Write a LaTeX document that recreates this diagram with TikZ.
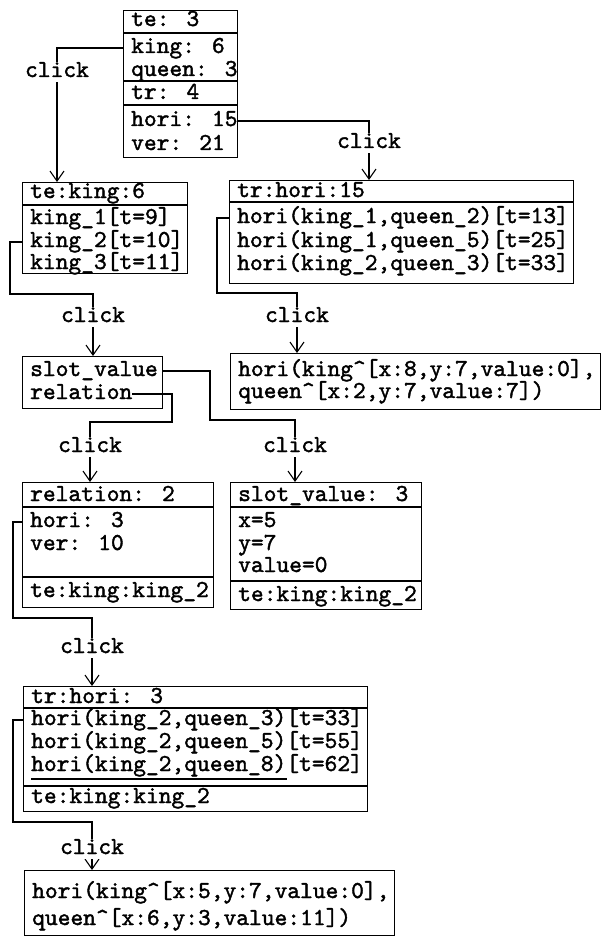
\documentclass[tikz,border=0pt]{standalone}
\usepackage{fontspec}
\usetikzlibrary{arrows.meta}
\newfontfamily\dmono{lmmono10-regular.otf}[FakeBold=1.6]
\newcommand\rf{\dmono\fontsize{24.3}{28}\selectfont}
\begin{document}
\begin{tikzpicture}[x=1pt,y=-1pt,
  box/.style={draw, line width=1.1pt, inner sep=0pt, anchor=north west},
  row/.style={anchor=west, inner sep=0pt, font=\rf, text height=13pt, text depth=3pt},
  lbl/.style={fill=white, inner sep=2pt, font=\rf, text height=13pt, text depth=3pt},
  sep/.style={line width=1.1pt},
  conn/.style={line width=1.1pt},
  arr/.style={conn, -{Straight Barb[length=10pt,width=14pt,line width=1.1pt]}}]
\useasboundingbox (0,0) rectangle (606,944);

% Box A
\node[box, minimum width=114pt, minimum height=147pt] (A) at (123,10) {};
\draw[sep] (A.west |- 0,33) -- (A.east |- 0,33);
\draw[sep] (A.west |- 0,81) -- (A.east |- 0,81);
\draw[sep] (A.west |- 0,105) -- (A.east |- 0,105);
\node[row] (a1) at (131,21) {te: 3};
\node[row] (a2) at (131,48) {king: 6};
\node[row] (a3) at (131,71) {queen: 3};
\node[row] (a4) at (131,94) {tr: 4};
\node[row] (a5) at (131,121) {hori: 15};
\node[row] (a6) at (131,145) {ver: 21};

% Box B
\node[box, minimum width=165pt, minimum height=91pt] (B) at (22,182) {};
\draw[sep] (B.west |- 0,205) -- (B.east |- 0,205);
\node[row] (b1) at (30,193) {te:king:6};
\node[row] (b2) at (30,219) {king\_1[t=9]};
\node[row] (b3) at (30,242) {king\_2[t=10]};
\node[row] (b4) at (30,264) {king\_3[t=11]};

% Box D
\node[box, minimum width=344pt, minimum height=103pt] (D) at (229,180) {};
\draw[sep] (D.west |- 0,202) -- (D.east |- 0,202);
\node[row] (d1) at (237,192) {tr:hori:15};
\node[row] (d2) at (237,218) {hori(king\_1,queen\_2)[t=13]};
\node[row] (d3) at (237,242) {hori(king\_1,queen\_5)[t=25]};
\node[row] (d4) at (237,265) {hori(king\_2,queen\_3)[t=33]};

% Box C
\node[box, minimum width=140pt, minimum height=52pt] (C) at (22,356) {};
\node[row] (c1) at (30,371) {slot\_value};
\node[row] (c2) at (30,394) {relation};

% Box E
\node[box, minimum width=370pt, minimum height=56pt] (E) at (230,353) {};
\node[row] (e1) at (238,371) {hori(king\textasciicircum[x:8,y:7,value:0],};
\node[row] (e2) at (238,393) {queen\textasciicircum[x:2,y:7,value:7])};

% Box F
\node[box, minimum width=191pt, minimum height=125pt] (F) at (22,482) {};
\draw[sep] (F.west |- 0,507) -- (F.east |- 0,507);
\draw[sep] (F.west |- 0,577) -- (F.east |- 0,577);
\node[row] (f1) at (30,496) {relation: 2};
\node[row] (f2) at (30,522) {hori: 3};
\node[row] (f3) at (30,545) {ver: 10};
\node[row] (f4) at (30,592) {te:king:king\_2};

% Box G
\node[box, minimum width=191pt, minimum height=127pt] (G) at (230,482) {};
\draw[sep] (G.west |- 0,507) -- (G.east |- 0,507);
\draw[sep] (G.west |- 0,581) -- (G.east |- 0,581);
\node[row] (g1) at (238,496) {slot\_value: 3};
\node[row] (g2) at (238,522) {x=5};
\node[row] (g3) at (238,545) {y=7};
\node[row] (g4) at (238,567) {value=0};
\node[row] (g5) at (238,596) {te:king:king\_2};

% Box H
\node[box, minimum width=344pt, minimum height=125pt] (H) at (23,686) {};
\draw[sep] (H.west |- 0,708) -- (H.east |- 0,708);
\draw[sep] (H.west |- 0,786) -- (H.east |- 0,786);
\node[row] (h1) at (31,698) {tr:hori: 3};
\node[row] (h2) at (31,720) {hori(king\_2,queen\_3)[t=33]};
\node[row] (h3) at (31,743) {hori(king\_2,queen\_5)[t=55]};
\node[row] (h4) at (31,766) {hori(king\_2,queen\_8)[t=62]};
\node[row] (h5) at (31,798) {te:king:king\_2};
\draw[sep] ([yshift=-13pt]h4.west) -- ++(256,0);

% Box I
\node[box, minimum width=370pt, minimum height=65pt] (I) at (24,870) {};
\node[row] (i1) at (32,893) {hori(king\textasciicircum[x:5,y:7,value:0],};
\node[row] (i2) at (32,920) {queen\textasciicircum[x:6,y:3,value:11])};

% Connectors
\draw[arr] (A.west |- a2) -| (B.north -| 57,0);
\draw[arr] (A.east |- a5) -| (D.north -| 369,0);
\draw[arr] (B.west |- b3) -- ++(-12,0) |- (93,294) -- (C.north -| 93,0);
\draw[arr] (D.west |- d2) -- ++(-12,0) |- (297,293) -- (E.north -| 297,0);
\draw[arr] (C.east |- c1) -| (210,420) -| (G.north -| 295,0);
\draw[arr] (c2.east) -| (172,422) -| (F.north -| 90,0);
\draw[arr] (F.west |- f2) -- ++(-9,0) |- (92,618) -- (H.north -| 92,0);
\draw[arr] (H.west |- h2) -- ++(-10,0) |- (92,822) -- (I.north -| 92,0);

% click labels
\node[lbl] (k1) at (57,72) {click};
\node[lbl] (k2) at (369,143) {click};
\node[lbl] (k3) at (93,317) {click};
\node[lbl] (k4) at (297,317) {click};
\node[lbl] (k5) at (90,447) {click};
\node[lbl] (k6) at (295,447) {click};
\node[lbl] (k7) at (92,648) {click};
\node[lbl] (k8) at (92,849) {click};
\end{tikzpicture}
\end{document}
